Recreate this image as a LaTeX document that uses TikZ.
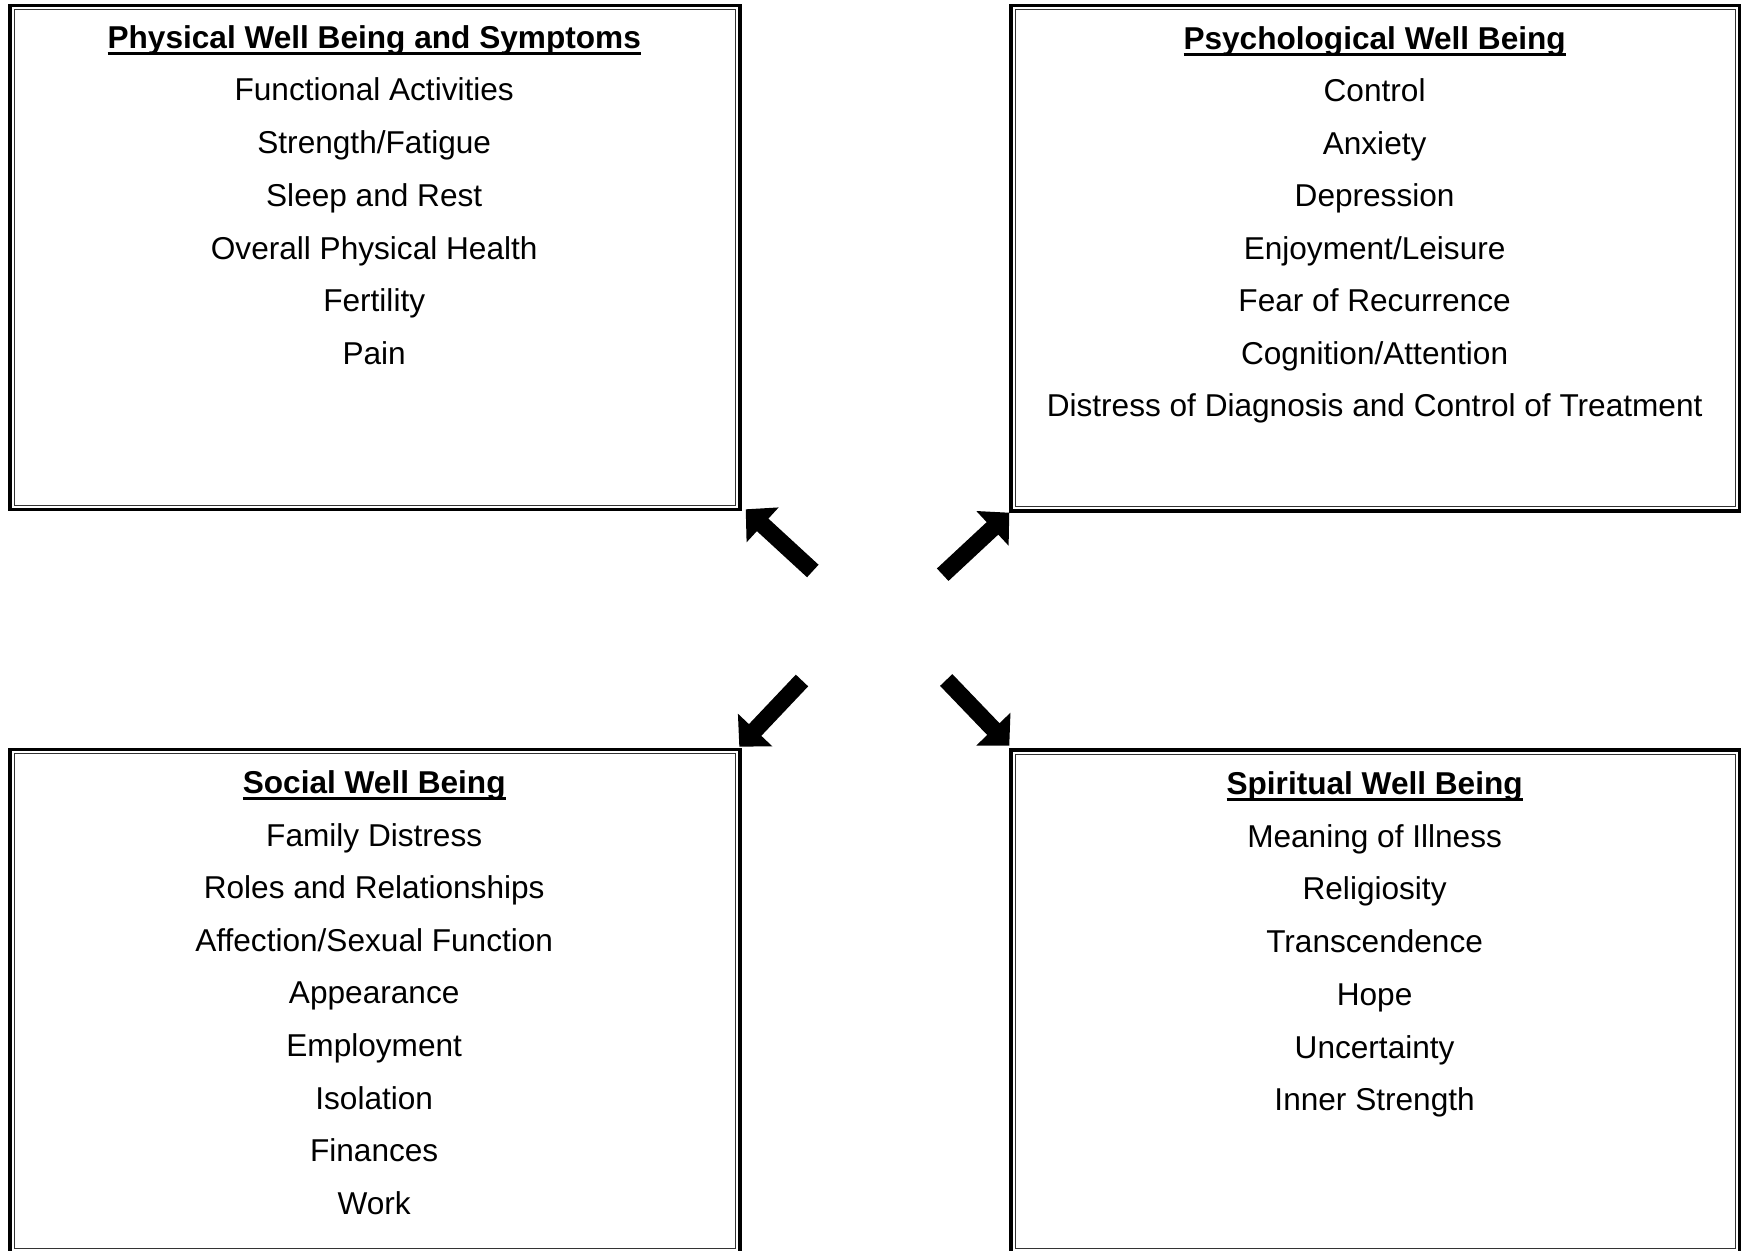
\documentclass[tikz,border=0pt]{standalone}
\usepackage{fontspec}
\setmainfont{Liberation Sans}
\usetikzlibrary{arrows.meta}
\newcommand\myul[1]{\setbox0\hbox{#1}\rlap{\rule[-3.25pt]{\wd0}{1.5pt}}\box0}
\begin{document}
\begin{tikzpicture}[x=0.5pt,y=-0.5pt,
  frame/.style={draw=black, line width=1.75pt, inner sep=0pt, outer sep=0pt},
  innerframe/.style={draw=black!80, line width=0.6pt},
  txt/.style={anchor=base, inner sep=0pt, font=\fontsize{15.8pt}{18pt}\selectfont},
  bigarrow/.style={line width=8.5pt, -{Triangle[width=23pt,length=11.5pt]}}]
\useasboundingbox[fill=white] (0,0) rectangle (1741,1251);
% boxes
\node[frame, minimum width=365pt, minimum height=252.1pt] (tl) at (375,257.4) {};
\node[frame, minimum width=364.25pt, minimum height=252.75pt] (tr) at (1375.25,258.25) {};
\node[frame, minimum width=365pt, minimum height=251.5pt] (bl) at (375,1001) {};
\node[frame, minimum width=364.25pt, minimum height=251.5pt] (br) at (1375.25,1001.5) {};
\foreach \b in {tl,tr,bl,br}
  \draw[innerframe] ([xshift=2.1pt,yshift=-2.1pt]\b.north west) rectangle ([xshift=-2.1pt,yshift=2.1pt]\b.south east);
% texts
\node[txt] (tl0) at (374.2,48.3) {\myul{\bfseries Physical Well Being and Symptoms}};
\foreach \t [count=\i] in {Functional Activities,Strength/Fatigue,Sleep and Rest,Overall Physical Health,Fertility,Pain}
  \node[txt] (tl\i) at (374.2,48.3+52.7*\i) {\t};
\node[txt] (tr0) at (1374.6,49.3) {\myul{\bfseries Psychological Well Being}};
\foreach \t [count=\i] in {Control,Anxiety,Depression,Enjoyment/Leisure,Fear of Recurrence,Cognition/Attention,Distress of Diagnosis and Control of Treatment}
  \node[txt] (tr\i) at (1374.6,49.3+52.5*\i) {\t};
\node[txt] (bl0) at (374.2,793.4) {\myul{\bfseries Social Well Being}};
\foreach \t [count=\i] in {Family Distress,Roles and Relationships,Affection/Sexual Function,Appearance,Employment,Isolation,Finances,Work}
  \node[txt] (bl\i) at (374.2,793.4+52.6*\i) {\t};
\node[txt] (br0) at (1374.6,794.5) {\myul{\bfseries Spiritual Well Being}};
\foreach \t [count=\i] in {Meaning of Illness,Religiosity,Transcendence,Hope,Uncertainty,Inner Strength}
  \node[txt] (br\i) at (1374.6,794.5+52.7*\i) {\t};
% arrows
\coordinate (a1s) at (812.8,571);   \coordinate (a1e) at (745.7,509.3);
\coordinate (a2s) at (942.7,574.7); \coordinate (a2e) at (1009.3,512.7);
\coordinate (a3s) at (802,680.5);   \coordinate (a3e) at (739.3,746.7);
\coordinate (a4s) at (946.2,680);   \coordinate (a4e) at (1009.3,745.7);
\draw[bigarrow] (a1s) -- (a1e);
\draw[bigarrow] (a2s) -- (a2e);
\draw[bigarrow] (a3s) -- (a3e);
\draw[bigarrow] (a4s) -- (a4e);
\end{tikzpicture}
\end{document}
